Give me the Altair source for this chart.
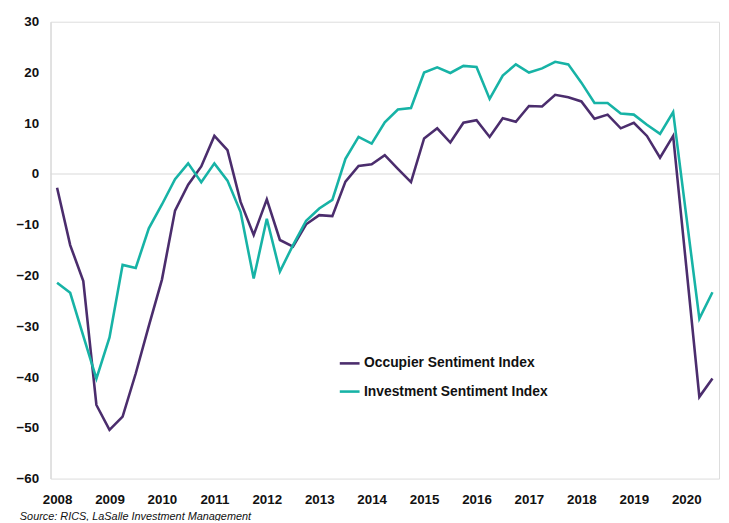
import altair as alt
import pandas as pd

# Quarterly observations, 2008 Q1 .. 2020 Q3
start_year = 2008
n_quarters = 51

occupier = [-2.7, -14.0, -21.1, -45.5, -50.4, -47.8, -39.3, -29.9,
            -20.8, -7.2, -2.1, 1.5, 7.5, 4.7, -5.5, -12.0,
            -5.0, -13.0, -14.3, -9.9, -8.1, -8.3, -1.5, 1.6,
            1.9, 3.7, 1.0, -1.6, 7.0, 9.0, 6.2, 10.1,
            10.6, 7.3, 11.0, 10.3, 13.4, 13.3, 15.6, 15.1,
            14.3, 10.9, 11.7, 9.0, 10.1, 7.5, 3.2, 7.5,
            -18.2, -43.9, -40.3]

investment = [-21.4, -23.4, -31.9, -40.3, -32.2, -17.9, -18.5, -10.7,
              -6.0, -1.0, 2.1, -1.6, 2.1, -1.3, -7.5, -20.6,
              -8.8, -19.2, -14.0, -9.2, -6.8, -5.1, 3.0, 7.3,
              6.0, 10.2, 12.7, 13.0, 20.0, 21.0, 19.9, 21.3,
              21.1, 14.8, 19.4, 21.6, 20.0, 20.8, 22.1, 21.6,
              18.0, 14.0, 14.0, 11.9, 11.7, 9.7, 7.9, 12.2,
              -8.2, -28.5, -23.3]

series_names = ["Occupier Sentiment Index", "Investment Sentiment Index"]
series_colors = ["#4b2d6d", "#17b3a6"]
year_ticks = list(range(2008, 2021))
y_ticks = list(range(-60, 31, 10))

t = [start_year + 0.25 * i for i in range(n_quarters)]
df = pd.concat([
    pd.DataFrame({"t": t, "value": occupier, "series": series_names[0]}),
    pd.DataFrame({"t": t, "value": investment, "series": series_names[1]}),
])

FONT = "Liberation Sans"

x_scale = alt.Scale(domain=[start_year - 0.125, t[-1] + 0.125], nice=False, zero=False)
y_scale = alt.Scale(domain=[-60, 30], nice=False)

lines = alt.Chart(df).mark_line(strokeWidth=2.6, strokeJoin="miter").encode(
    x=alt.X("t:Q", scale=x_scale,
            axis=alt.Axis(values=year_ticks, format="d", title=None, grid=False,
                          ticks=False, tickSize=0, domain=False, labelPadding=14,
                          labelFont=FONT, labelFontSize=13.5, labelFontWeight="bold",
                          labelColor="#111111", labelFlush=False)),
    y=alt.Y("value:Q", scale=y_scale,
            axis=alt.Axis(values=y_ticks, title=None, grid=False, ticks=False,
                          tickSize=0, domain=True, domainColor="#d9d9d9",
                          domainWidth=1.2, labelPadding=12, labelFont=FONT,
                          labelFontSize=13.5, labelFontWeight="bold",
                          labelColor="#111111")),
    color=alt.Color("series:N",
                    scale=alt.Scale(domain=series_names, range=series_colors),
                    sort=series_names,
                    legend=alt.Legend(orient="none", legendX=291, legendY=334,
                                      title=None, symbolType="stroke",
                                      symbolSize=400, symbolStrokeWidth=2.6,
                                      labelFont=FONT, labelFontSize=14,
                                      labelFontWeight="bold", labelColor="#111111",
                                      labelOffset=3, labelLimit=0, rowPadding=9.5,
                                      padding=0)),
    order=alt.Order("t:Q"),
)

zero_rule = alt.Chart(pd.DataFrame({"y": [0]})).mark_rule(
    color="#d9d9d9", strokeWidth=1.2
).encode(y=alt.Y("y:Q", scale=y_scale))

chart = alt.layer(zero_rule, lines).properties(
    width=676,
    height=462,
    autosize=alt.AutoSizeParams(type="none"),
    padding={"left": 43, "top": 11, "right": 2, "bottom": 40},
    title=alt.TitleParams(
        "Source: RICS, LaSalle Investment Management",
        orient="bottom", anchor="start", frame="group", dx=-31, offset=5,
        font=FONT, fontSize=11, fontStyle="italic", fontWeight="normal",
        color="#111111",
    ),
).configure_view(stroke=None).configure(background="white")

chart.save("out.html", embed_options={"renderer": "svg", "actions": False})
